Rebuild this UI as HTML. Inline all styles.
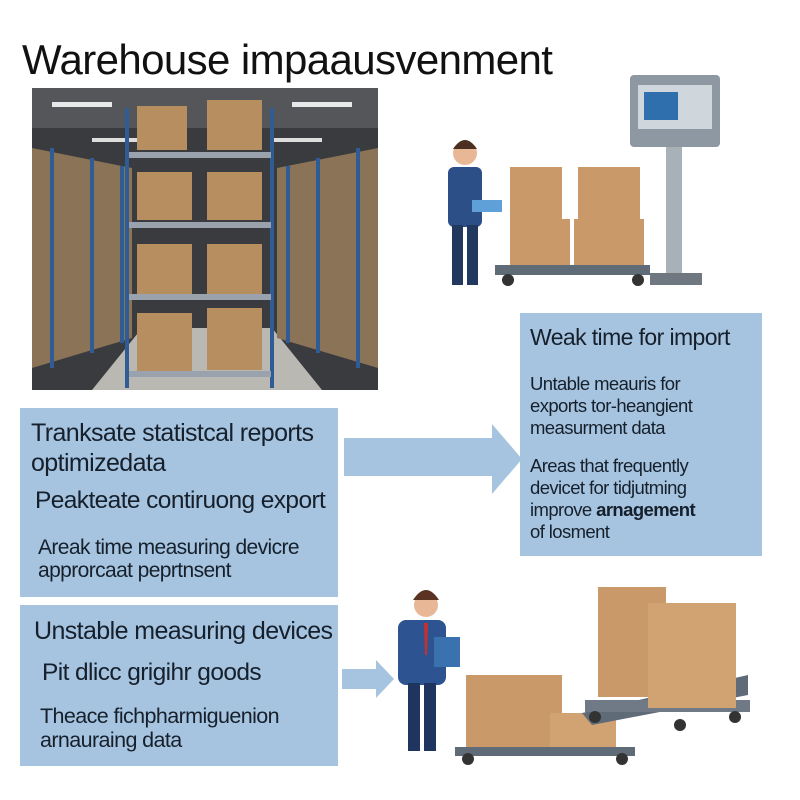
<!DOCTYPE html>
<html><head><meta charset="utf-8"><style>
body{margin:0;width:800px;height:800px;background:#fff;position:relative;overflow:hidden;font-family:"Liberation Sans",sans-serif;color:#16202c}
.a{position:absolute}
.box{position:absolute;background:#a6c4df}
.t{position:absolute;white-space:nowrap;letter-spacing:-0.6px;line-height:1.05}
</style></head><body>
<div class="t" style="left:22px;top:38px;font-size:42px;color:#111">Warehouse impaausvenment</div>

<svg class="a" style="left:32px;top:88px" width="346" height="302" viewBox="0 0 346 302">
<rect width="346" height="302" fill="#3a3b3e"/>
<rect y="0" width="346" height="40" fill="#55565a"/>
<rect x="20" y="14" width="60" height="5" fill="#e8e8e8"/><rect x="260" y="14" width="60" height="5" fill="#e8e8e8"/>
<rect x="60" y="50" width="50" height="4" fill="#ddd"/><rect x="240" y="50" width="50" height="4" fill="#ddd"/>
<polygon points="60,302 290,302 240,240 110,240" fill="#b9b8b3"/>
<polygon points="0,60 100,80 100,250 0,280" fill="#8a7357"/>
<polygon points="346,60 245,80 245,250 346,280" fill="#8a7357"/>
<g stroke="#2f5c94" stroke-width="4">
<line x1="20" y1="60" x2="20" y2="280"/><line x1="60" y1="70" x2="60" y2="265"/><line x1="90" y1="78" x2="90" y2="255"/>
<line x1="326" y1="60" x2="326" y2="280"/><line x1="286" y1="70" x2="286" y2="265"/><line x1="256" y1="78" x2="256" y2="255"/>
<line x1="95" y1="20" x2="95" y2="300"/><line x1="240" y1="20" x2="240" y2="300"/>
</g>
<g fill="#b78e5f"><rect x="105" y="18" width="50" height="44"/><rect x="175" y="12" width="55" height="50"/>
<rect x="105" y="84" width="55" height="48"/><rect x="175" y="84" width="55" height="48"/>
<rect x="105" y="156" width="55" height="50"/><rect x="175" y="156" width="55" height="50"/>
<rect x="105" y="225" width="55" height="58"/><rect x="175" y="220" width="55" height="62"/></g>
<g fill="#9aa3ad"><rect x="97" y="64" width="142" height="6"/><rect x="97" y="134" width="142" height="6"/><rect x="97" y="206" width="142" height="6"/><rect x="97" y="283" width="142" height="6"/></g>
</svg>

<svg class="a" style="left:440px;top:75px" width="290" height="215" viewBox="0 0 290 215">
<rect x="190" y="0" width="90" height="72" rx="4" fill="#8e98a2"/><rect x="198" y="10" width="74" height="44" fill="#cfd6dc"/><rect x="204" y="17" width="34" height="28" fill="#2f6fae"/>
<rect x="226" y="72" width="16" height="130" fill="#a9b1b8"/><rect x="210" y="198" width="52" height="12" fill="#6f7880"/>
<rect x="55" y="190" width="155" height="10" fill="#5f6b77"/><circle cx="68" cy="205" r="6" fill="#333"/><circle cx="198" cy="205" r="6" fill="#333"/>
<rect x="70" y="92" width="52" height="52" fill="#c9996a"/><rect x="70" y="144" width="60" height="46" fill="#c9996a"/>
<rect x="138" y="92" width="62" height="52" fill="#c9996a"/><rect x="134" y="144" width="70" height="46" fill="#c9996a"/>
<circle cx="25" cy="78" r="12" fill="#e8b896"/><path d="M13 74 q12 -18 24 0 z" fill="#4a2f22"/>
<rect x="8" y="92" width="34" height="60" rx="6" fill="#2d4f87"/><rect x="12" y="150" width="11" height="60" fill="#22395f"/><rect x="27" y="150" width="11" height="60" fill="#22395f"/>
<rect x="32" y="125" width="30" height="12" fill="#5fa0d9"/>
</svg>

<div class="box" style="left:520px;top:313px;width:242px;height:243px"></div>
<div class="t" style="left:530px;top:325px;font-size:23px">Weak time for import</div>
<div class="t" style="left:530px;top:373px;font-size:18.5px;line-height:22px">Untable meauris for<br>exports tor-heangient<br>measurment data</div>
<div class="t" style="left:530px;top:455px;font-size:18.5px;line-height:22px">Areas that frequently<br>devicet for tidjutming<br>improve <b>arnagement</b><br>of losment</div>

<div class="box" style="left:20px;top:408px;width:318px;height:189px"></div>
<div class="t" style="left:31px;top:418px;font-size:25px;line-height:30px">Tranksate statistcal reports<br>optimizedata</div>
<div class="t" style="left:35px;top:488px;font-size:24.5px">Peakteate contiruong export</div>
<div class="t" style="left:38px;top:536px;font-size:21px;line-height:23px">Areak time measuring devicre<br>approrcaat peprtnsent</div>

<svg class="a" style="left:344px;top:424px" width="180" height="70"><polygon points="0,14 148,14 148,0 178,35 148,70 148,52 0,52" fill="#a6c4df"/></svg>

<div class="box" style="left:20px;top:605px;width:318px;height:161px"></div>
<div class="t" style="left:34px;top:618px;font-size:25px">Unstable measuring devices</div>
<div class="t" style="left:42px;top:660px;font-size:24.5px">Pit dlicc grigihr goods</div>
<div class="t" style="left:40px;top:704px;font-size:21.5px;line-height:24px">Theace fichpharmiguenion<br>arnauraing data</div>

<svg class="a" style="left:342px;top:660px" width="54" height="38"><polygon points="0,9 34,9 34,0 52,19 34,38 34,29 0,29" fill="#a6c4df"/></svg>

<svg class="a" style="left:390px;top:575px" width="370" height="190" viewBox="0 0 370 190">
<circle cx="36" cy="30" r="12" fill="#e8b896"/><path d="M23 25 q13 -20 26 0 z" fill="#5a3322"/>
<rect x="8" y="45" width="48" height="65" rx="8" fill="#2d5391"/><polygon points="34,48 38,48 37,80 35,80" fill="#c8302e"/>
<rect x="18" y="108" width="12" height="68" fill="#1f3560"/><rect x="34" y="108" width="12" height="68" fill="#1f3560"/>
<rect x="44" y="62" width="26" height="30" fill="#3a72b0"/>
<rect x="65" y="172" width="180" height="9" fill="#5f6b77"/><circle cx="78" cy="184" r="6" fill="#333"/><circle cx="232" cy="184" r="6" fill="#333"/>
<rect x="76" y="100" width="96" height="72" fill="#c9996a"/><rect x="160" y="138" width="66" height="34" fill="#d1a272"/>
<polygon points="192,138 358,100 358,120 202,150" fill="#5f6b77"/>
<rect x="195" y="125" width="165" height="12" fill="#6f7a86"/><circle cx="205" cy="142" r="6" fill="#333"/><circle cx="345" cy="142" r="6" fill="#333"/><circle cx="290" cy="150" r="6" fill="#333"/>
<rect x="208" y="12" width="68" height="110" fill="#c9996a"/><rect x="258" y="28" width="88" height="105" fill="#d1a272"/>
</svg>
</body></html>
